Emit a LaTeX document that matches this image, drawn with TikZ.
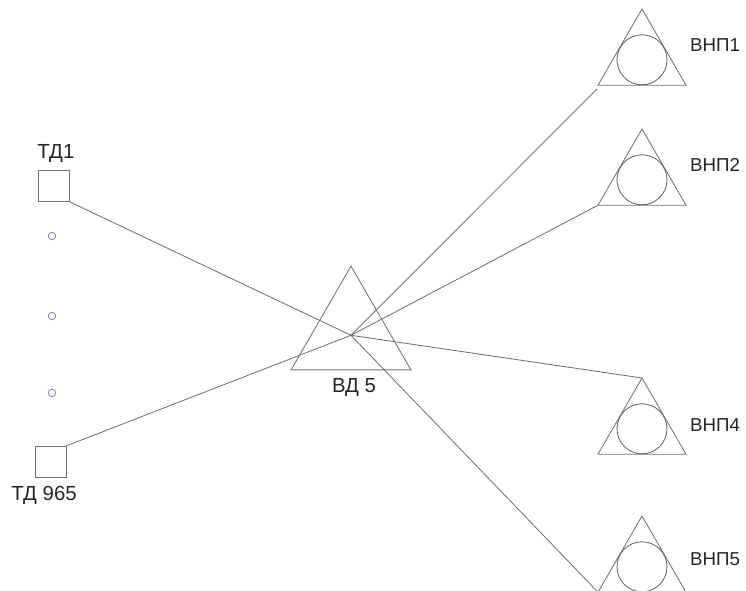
\documentclass[tikz,border=0pt]{standalone}
\usepackage{fontspec}
\setmainfont{Liberation Sans}
\usetikzlibrary{positioning,shapes.geometric}

\begin{document}
\begin{tikzpicture}[
    x=0.025cm, y=-0.025cm,
    tdbox/.style={rectangle, draw=black!55, line width=0.6pt, minimum size=0.775cm, inner sep=0pt, outer sep=0pt},
    vdtri/.style={regular polygon, regular polygon sides=3, draw=black!55, line width=0.6pt, minimum size=3.46cm, inner sep=0pt, outer sep=0pt},
    vnptri/.style={regular polygon, regular polygon sides=3, draw=black!55, line width=0.6pt, minimum size=2.54cm, inner sep=0pt, outer sep=0pt},
    vnpcirc/.style={circle, draw=black!60, line width=0.6pt, minimum size=1.25cm, inner sep=0pt, outer sep=0pt},
    gapdot/.style={circle, draw=blue!25!black!45, fill=blue!3, line width=0.6pt, minimum size=0.19cm, inner sep=0pt},
    link/.style={draw=black!55, line width=0.6pt},
    lab/.style={font=\fontsize{14.5}{16}\selectfont, text=black!85, inner sep=0pt},
    labr/.style={font=\fontsize{13.3}{16}\selectfont, text=black!85, inner sep=0pt},
]
\useasboundingbox (0,0) rectangle (746,591);
\clip (0,0) rectangle (746,591);

% Left squares
\node[tdbox] (td1) at (53.5,186) {};
\node[tdbox] (td965) at (50.5,461.5) {};
\node[gapdot] (dot1) at (52,236) {};
\node[gapdot] (dot2) at (52,316) {};
\node[gapdot] (dot3) at (52,393) {};

% Middle triangle
\node[vdtri] (vd) at (351,335.3) {};

% Right triangles
\node[vnptri] (vnp1) at (642,59.8) {};
\node[vnptri] (vnp2) at (642,179.8) {};
\node[vnptri] (vnp4) at (642,428.8) {};
\node[vnptri] (vnp5) at (642,566.8) {};
\node[vnpcirc] (c1) at (vnp1.center) {};
\node[vnpcirc] (c2) at (vnp2.center) {};
\node[vnpcirc] (c4) at (vnp4.center) {};
\node[vnpcirc] (c5) at (vnp5.center) {};
\coordinate (end1) at (597,89);

% Connectors
\draw[link] (td1.south east) -- (vd.center);
\draw[link] (td965.north east) -- (vd.center);
\draw[link] (vd.center) -- (end1);
\draw[link] (vd.center) -- (vnp2.corner 2);
\draw[link] (vd.center) -- (vnp4.corner 1);
\draw[link] (vd.center) -- (vnp5.corner 2);

% Labels
\node[lab, above=0.2cm of td1, xshift=0.06cm] (ltd1) {ТД1};
\node[lab, below=0.22cm of td965, xshift=-0.16cm] (ltd965) {ТД 965};
\node[lab] (lvd) at (354,388) {ВД 5};
\node[labr] (lvnp1) at (715,45) {ВНП1};
\node[labr] (lvnp2) at (715,165) {ВНП2};
\node[labr] (lvnp4) at (715,425) {ВНП4};
\node[labr] (lvnp5) at (715,559) {ВНП5};

\end{tikzpicture}
\end{document}
